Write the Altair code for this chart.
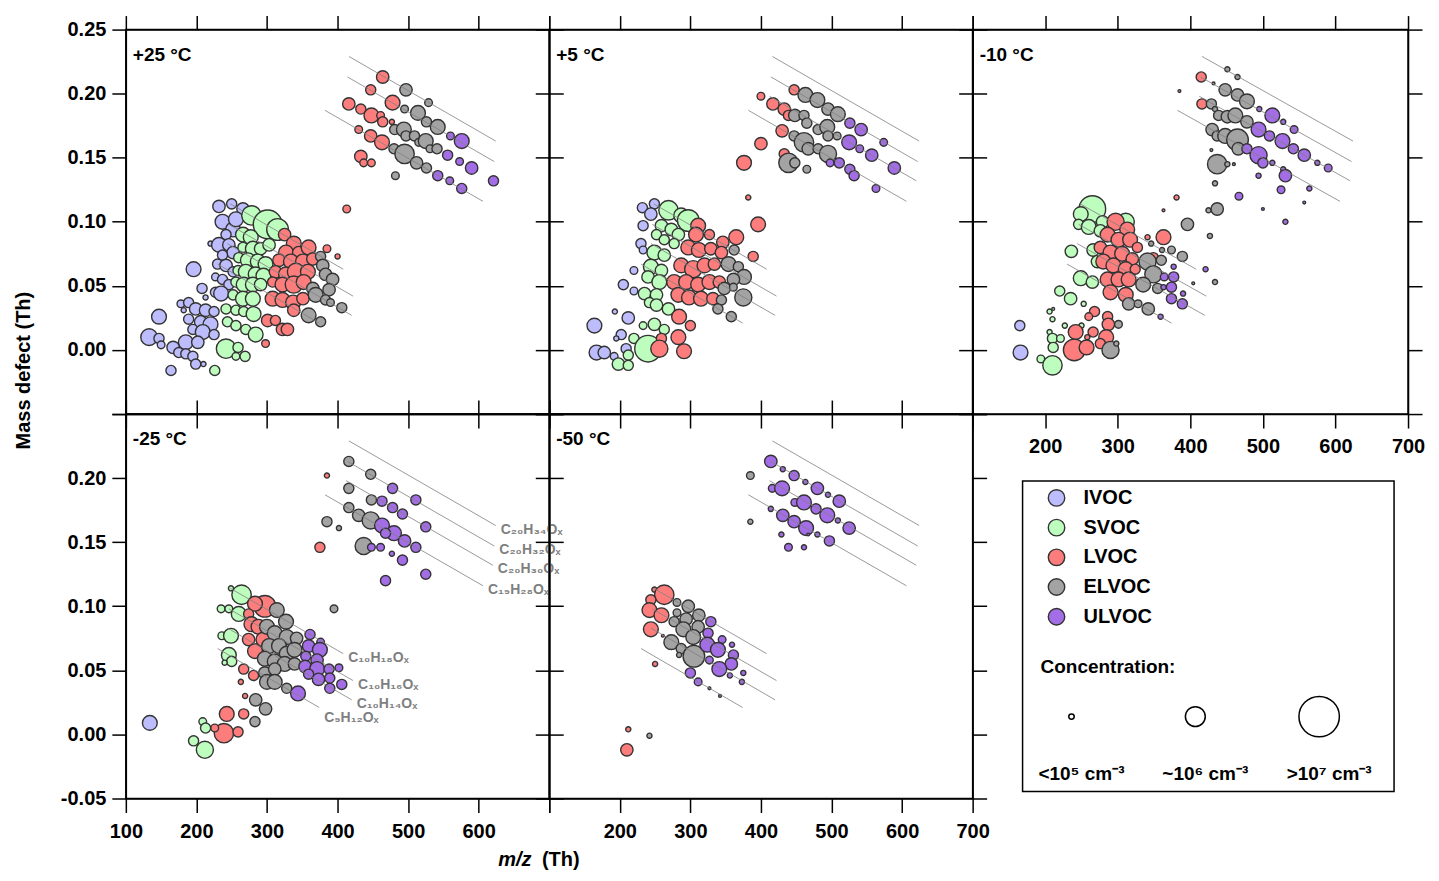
import altair as alt
import pandas as pd

FONT = "Liberation Sans"

classes = ["IVOC", "SVOC", "LVOC", "ELVOC", "ULVOC"]
class_fill = ["#bdbdfd", "#bdfdbd", "#fd7d7d", "#a3a3a3", "#a36de6"]

# each point: (m/z in Th, mass defect in Th, log10 concentration in cm-3)

# +25 °C
p1_ivoc = [
    (232, 0.112, 5.34), (250, 0.114, 5.20), (266, 0.110, 5.34), (237, 0.100, 5.52), (252, 0.094, 5.52),
    (256, 0.102, 5.52), (266, 0.090, 5.34), (242, 0.090, 5.20), (220, 0.083, 4.99), (232, 0.082, 5.52),
    (246, 0.082, 5.34), (252, 0.076, 5.34), (237, 0.074, 5.20), (230, 0.067, 5.20), (242, 0.066, 5.34),
    (196, 0.063, 5.52), (252, 0.061, 5.20), (227, 0.057, 5.08), (237, 0.055, 5.20), (246, 0.051, 5.20),
    (208, 0.048, 5.20), (227, 0.045, 5.20), (235, 0.044, 5.52), (213, 0.041, 4.99), (178, 0.036, 5.08),
    (189, 0.037, 5.20), (182, 0.031, 4.99), (199, 0.032, 5.34), (213, 0.031, 5.34), (225, 0.030, 5.20),
    (147, 0.026, 5.52), (189, 0.024, 5.20), (206, 0.022, 5.34), (220, 0.020, 5.52), (195, 0.016, 5.20),
    (209, 0.014, 5.52), (225, 0.012, 5.20), (133, 0.010, 5.68), (147, 0.009, 5.20), (185, 0.006, 5.52),
    (202, 0.006, 5.34), (150, 0.004, 5.08), (167, 0.002, 5.34), (175, -0.002, 5.20), (185, -0.003, 5.20),
    (195, -0.005, 5.20), (199, -0.011, 5.20), (210, -0.011, 4.99), (164, -0.016, 5.20),
]
p1_svoc = [
    (278, 0.105, 5.95), (301, 0.098, 6.35), (315, 0.094, 6.06), (266, 0.090, 5.52), (277, 0.088, 5.52),
    (266, 0.080, 5.20), (280, 0.079, 5.52), (291, 0.079, 5.34), (303, 0.082, 5.34), (260, 0.072, 5.20),
    (273, 0.070, 5.52), (287, 0.069, 5.52), (298, 0.067, 5.52), (259, 0.062, 5.20), (270, 0.061, 5.52),
    (284, 0.059, 5.52), (295, 0.058, 5.52), (256, 0.053, 5.20), (267, 0.051, 5.52), (280, 0.051, 5.52),
    (291, 0.051, 5.34), (252, 0.043, 5.20), (266, 0.040, 5.52), (280, 0.040, 5.52), (242, 0.032, 5.20),
    (256, 0.031, 5.20), (267, 0.030, 5.20), (281, 0.028, 5.52), (244, 0.022, 5.20), (256, 0.019, 5.20),
    (270, 0.016, 5.20), (284, 0.012, 5.52), (242, 0.001, 5.95), (259, 0.002, 5.20), (256, -0.005, 5.08),
    (269, -0.005, 5.20), (226, -0.016, 5.20),
]
p1_lvoc = [
    (325, 0.090, 5.34), (338, 0.083, 5.52), (327, 0.076, 5.52), (345, 0.076, 5.34), (359, 0.080, 5.52),
    (317, 0.070, 5.34), (334, 0.069, 5.52), (351, 0.069, 5.52), (365, 0.071, 5.34), (312, 0.061, 5.34),
    (327, 0.059, 5.52), (341, 0.061, 5.72), (358, 0.061, 5.52), (308, 0.053, 5.20), (322, 0.051, 5.52),
    (338, 0.051, 5.72), (352, 0.053, 5.52), (308, 0.040, 5.52), (322, 0.039, 5.52), (337, 0.037, 5.52),
    (351, 0.040, 5.34), (338, 0.031, 5.34), (301, 0.023, 5.34), (312, 0.023, 5.20), (322, 0.016, 5.34),
    (329, 0.016, 5.34), (298, 0.005, 5.08), (385, 0.079, 5.08), (400, 0.073, 4.99), (413, 0.110, 5.08),
    (464, 0.213, 5.34), (447, 0.203, 5.20), (416, 0.192, 5.34), (433, 0.188, 5.20), (448, 0.183, 5.52),
    (461, 0.183, 5.08), (478, 0.193, 5.52), (464, 0.178, 5.20), (477, 0.178, 4.99), (430, 0.172, 5.08),
    (447, 0.167, 5.34), (463, 0.162, 5.52), (433, 0.151, 5.34), (437, 0.146, 5.08), (448, 0.146, 5.08),
]
p1_elvoc = [
    (376, 0.073, 5.20), (379, 0.066, 5.34), (383, 0.059, 5.34), (393, 0.055, 5.34), (388, 0.047, 5.34),
    (365, 0.048, 5.34), (369, 0.043, 5.52), (383, 0.039, 5.20), (390, 0.037, 5.08), (406, 0.033, 5.20),
    (359, 0.027, 5.52), (376, 0.022, 5.20),
    (497, 0.203, 5.34), (529, 0.193, 5.08), (495, 0.188, 5.08), (514, 0.185, 5.52), (526, 0.178, 5.20),
    (542, 0.174, 5.52), (481, 0.172, 5.20), (494, 0.172, 5.52), (497, 0.167, 5.20), (509, 0.167, 5.20),
    (515, 0.162, 5.08), (525, 0.163, 5.52), (531, 0.157, 5.08), (541, 0.157, 5.20), (480, 0.157, 5.20),
    (495, 0.153, 5.95), (512, 0.146, 5.34), (526, 0.142, 5.20), (482, 0.136, 5.08),
]
p1_ulvoc = [
    (560, 0.167, 5.08), (576, 0.163, 5.52), (556, 0.152, 5.20), (573, 0.147, 5.08), (590, 0.142, 5.34),
    (621, 0.132, 5.20), (542, 0.136, 5.20), (559, 0.132, 5.08), (576, 0.126, 5.20),
]

# +5 °C
p2_ivoc = [
    (232, 0.111, 5.20), (249, 0.114, 5.20), (244, 0.106, 5.34), (233, 0.097, 5.20), (230, 0.083, 5.20),
    (233, 0.078, 5.08), (220, 0.062, 5.08), (205, 0.051, 5.20), (220, 0.046, 5.08), (193, 0.030, 4.99),
    (212, 0.025, 5.34), (164, 0.019, 5.52), (202, 0.012, 5.20), (195, 0.009, 4.99), (167, -0.002, 5.52),
    (178, -0.002, 5.34), (192, -0.005, 5.08), (209, 0.001, 5.20),
]
p2_svoc = [
    (269, 0.109, 5.95), (287, 0.105, 5.52), (297, 0.101, 6.06), (259, 0.097, 5.34), (273, 0.094, 5.34),
    (283, 0.090, 5.34), (252, 0.090, 5.20), (263, 0.086, 5.20), (277, 0.083, 5.20), (249, 0.076, 5.52),
    (263, 0.074, 5.34), (244, 0.065, 5.52), (259, 0.062, 5.34), (240, 0.057, 5.34), (256, 0.053, 5.52),
    (235, 0.044, 5.34), (252, 0.043, 5.34), (242, 0.037, 5.20), (252, 0.035, 5.34), (269, 0.032, 5.34),
    (249, 0.020, 5.34), (233, 0.019, 5.08), (263, 0.016, 5.20), (220, 0.009, 5.20), (240, 0.001, 6.25),
    (212, -0.004, 5.20), (198, -0.011, 5.34), (212, -0.012, 5.20),
]
p2_lvoc = [
    (382, 0.119, 4.99), (396, 0.098, 5.52), (311, 0.097, 5.52), (308, 0.090, 5.52), (327, 0.090, 5.20),
    (346, 0.084, 5.34), (365, 0.088, 5.52), (297, 0.080, 5.52), (312, 0.078, 5.52), (329, 0.079, 5.34),
    (344, 0.076, 5.34), (389, 0.073, 5.20), (287, 0.066, 5.52), (304, 0.063, 5.72), (320, 0.066, 5.52),
    (334, 0.067, 5.34), (277, 0.053, 5.52), (294, 0.053, 5.52), (311, 0.051, 5.52), (327, 0.053, 5.52),
    (341, 0.053, 5.34), (283, 0.043, 5.52), (298, 0.041, 5.52), (315, 0.040, 5.52), (332, 0.040, 5.34),
    (284, 0.026, 5.52), (300, 0.019, 5.20), (283, 0.010, 5.52), (259, 0.009, 5.20), (256, 0.001, 5.72),
    (291, -0.001, 5.52),
    (447, 0.203, 5.20), (400, 0.198, 5.08), (417, 0.192, 5.34), (433, 0.188, 5.34), (439, 0.183, 5.20),
    (430, 0.171, 5.34), (400, 0.161, 5.34), (433, 0.153, 5.20), (376, 0.146, 5.52),
]
p2_elvoc = [
    (362, 0.078, 5.20), (354, 0.067, 5.52), (368, 0.065, 5.20), (376, 0.057, 5.52), (361, 0.055, 5.34),
    (348, 0.048, 5.34), (375, 0.041, 5.72), (361, 0.049, 5.08), (344, 0.039, 5.20), (339, 0.032, 5.20),
    (358, 0.026, 5.20),
    (463, 0.199, 5.52), (480, 0.195, 5.52), (495, 0.188, 5.34), (509, 0.184, 5.52), (448, 0.183, 5.34),
    (461, 0.183, 5.20), (465, 0.177, 5.20), (481, 0.172, 5.20), (494, 0.174, 5.52), (495, 0.167, 5.20),
    (508, 0.167, 5.08), (447, 0.167, 5.20), (461, 0.162, 5.95), (467, 0.157, 5.34), (481, 0.157, 5.20),
    (495, 0.153, 5.72), (439, 0.146, 5.95), (448, 0.146, 5.20), (465, 0.141, 5.08),
]
p2_ulvoc = [
    (526, 0.177, 5.20), (542, 0.172, 5.34), (525, 0.162, 5.52), (540, 0.157, 5.08), (557, 0.152, 5.34),
    (574, 0.162, 5.08), (589, 0.142, 5.34), (498, 0.146, 5.08), (511, 0.146, 5.20), (526, 0.141, 5.20),
    (532, 0.136, 5.20), (563, 0.126, 5.08),
]

# -10 °C
p3_ivoc = [(165, 0.019, 5.20), (166, -0.002, 5.52)]
p3_svoc = [
    (265, 0.110, 6.25), (249, 0.106, 5.52), (246, 0.098, 5.20), (260, 0.096, 5.52), (279, 0.100, 5.34),
    (276, 0.093, 5.34), (311, 0.100, 5.72), (236, 0.077, 5.34), (266, 0.078, 5.34), (272, 0.069, 5.34),
    (249, 0.056, 5.52), (265, 0.053, 5.34), (220, 0.046, 5.20), (235, 0.040, 5.34), (253, 0.036, 4.99),
    (206, 0.030, 4.99), (211, 0.032, 4.94), (210, 0.024, 4.99), (227, 0.019, 4.99), (250, 0.019, 4.99),
    (206, 0.014, 4.99), (210, 0.009, 5.20), (221, 0.009, 5.08), (211, 0.002, 5.20), (194, -0.007, 5.08),
    (210, -0.012, 5.95),
]
p3_lvoc = [
    (381, 0.119, 4.99), (363, 0.109, 4.94), (297, 0.100, 5.72), (313, 0.094, 5.52), (286, 0.090, 5.52),
    (301, 0.086, 5.52), (317, 0.086, 5.52), (327, 0.080, 5.20), (276, 0.080, 5.34), (290, 0.076, 5.52),
    (306, 0.075, 5.52), (320, 0.071, 5.34), (280, 0.069, 5.52), (294, 0.066, 5.52), (311, 0.063, 5.52),
    (324, 0.063, 5.20), (286, 0.055, 5.52), (301, 0.055, 5.52), (315, 0.055, 5.52), (290, 0.045, 5.52),
    (311, 0.043, 5.52), (363, 0.088, 5.52), (341, 0.088, 4.99), (349, 0.072, 5.20), (268, 0.030, 5.20),
    (260, 0.026, 5.08), (286, 0.026, 5.20), (287, 0.020, 5.34), (242, 0.014, 5.52), (266, 0.014, 5.20),
    (284, 0.010, 5.52), (258, 0.010, 4.99), (276, 0.005, 5.20), (240, 0.000, 6.06), (257, 0.002, 5.52),
    (415, 0.213, 5.20), (385, 0.202, 4.94), (416, 0.192, 5.20),
]
p3_elvoc = [
    (437, 0.110, 5.34), (425, 0.109, 4.99), (396, 0.098, 5.34), (427, 0.089, 4.99), (346, 0.083, 4.99),
    (361, 0.078, 4.99), (374, 0.078, 5.08), (389, 0.073, 5.20), (341, 0.069, 5.72), (360, 0.070, 5.20),
    (349, 0.059, 5.72), (335, 0.051, 5.52), (355, 0.048, 5.20), (315, 0.036, 5.34), (328, 0.036, 5.08),
    (342, 0.032, 5.34), (290, 0.000, 5.72), (301, 0.020, 5.08), (298, 0.005, 4.99), (434, 0.053, 4.99),
    (404, 0.052, 4.94),
    (451, 0.219, 4.99), (465, 0.213, 4.99), (432, 0.208, 4.94), (448, 0.203, 5.34), (465, 0.199, 5.34),
    (478, 0.194, 5.52), (429, 0.192, 5.20), (434, 0.188, 4.99), (439, 0.183, 5.20), (451, 0.182, 5.34),
    (462, 0.183, 5.52), (478, 0.178, 5.34), (430, 0.172, 5.34), (437, 0.167, 5.20), (448, 0.167, 5.52),
    (465, 0.164, 6.06), (466, 0.157, 5.34), (437, 0.145, 5.95), (429, 0.156, 4.94), (451, 0.145, 4.99),
    (460, 0.145, 4.94), (434, 0.130, 4.99),
]
p3_ulvoc = [
    (377, 0.065, 4.99), (364, 0.057, 5.08), (377, 0.057, 5.20), (374, 0.049, 5.20), (363, 0.049, 4.99),
    (390, 0.044, 4.99), (374, 0.040, 5.20), (389, 0.036, 5.20), (421, 0.063, 4.99), (359, 0.026, 4.99),
    (495, 0.188, 4.99), (513, 0.183, 5.52), (528, 0.178, 4.99), (543, 0.172, 5.08), (494, 0.172, 5.52),
    (509, 0.167, 5.20), (527, 0.163, 5.52), (542, 0.157, 5.20), (557, 0.152, 5.34), (575, 0.146, 4.99),
    (590, 0.142, 5.08), (478, 0.157, 5.20), (494, 0.152, 5.72), (500, 0.146, 5.20), (513, 0.146, 4.99),
    (528, 0.141, 4.99), (531, 0.136, 5.34), (494, 0.136, 4.99), (525, 0.125, 5.08), (564, 0.126, 4.99),
    (467, 0.120, 5.08), (557, 0.115, 4.94), (500, 0.110, 4.94), (531, 0.100, 4.99),
]

# -25 °C
p4_ivoc = [(134, 0.009, 5.52)]
p4_svoc = [
    (249, 0.114, 4.99), (264, 0.109, 5.95), (235, 0.098, 5.08), (246, 0.098, 5.08), (260, 0.094, 5.52),
    (236, 0.077, 5.08), (249, 0.077, 5.52), (246, 0.062, 5.52), (250, 0.057, 5.20), (240, 0.056, 4.99),
    (209, 0.010, 5.08), (213, 0.005, 5.20), (196, -0.005, 5.20), (212, -0.012, 5.72),
]
p4_lvoc = [
    (297, 0.100, 6.06), (283, 0.102, 5.52), (274, 0.094, 5.20), (278, 0.086, 5.52), (288, 0.084, 5.52),
    (274, 0.074, 5.34), (283, 0.065, 5.52), (295, 0.074, 5.52), (267, 0.051, 5.20), (281, 0.046, 5.20),
    (263, 0.041, 4.99), (269, 0.030, 4.99), (243, 0.016, 5.52), (267, 0.016, 5.20), (239, 0.001, 5.95),
    (259, 0.002, 5.20), (226, 0.005, 5.08), (385, 0.202, 4.99), (375, 0.146, 5.20),
]
p4_elvoc = [
    (314, 0.097, 5.52), (327, 0.088, 5.52), (300, 0.084, 5.52), (311, 0.079, 5.52), (328, 0.076, 5.52),
    (342, 0.075, 5.34), (303, 0.069, 5.52), (317, 0.069, 5.52), (328, 0.063, 5.52), (339, 0.066, 5.52),
    (297, 0.059, 5.52), (311, 0.057, 5.52), (325, 0.055, 5.52), (339, 0.055, 5.34), (297, 0.048, 5.34),
    (311, 0.051, 5.34), (300, 0.041, 5.52), (311, 0.041, 5.52), (328, 0.036, 5.20), (284, 0.027, 5.34),
    (298, 0.020, 5.34), (283, 0.010, 5.20), (395, 0.098, 5.08),
    (416, 0.213, 5.20), (447, 0.203, 5.20), (416, 0.192, 5.20), (448, 0.183, 5.20), (416, 0.177, 5.20),
    (430, 0.171, 5.34), (447, 0.167, 5.72), (385, 0.166, 5.20), (402, 0.161, 4.99), (437, 0.147, 5.72),
]
p4_ulvoc = [
    (478, 0.192, 5.20), (511, 0.183, 5.20), (463, 0.182, 5.20), (478, 0.177, 5.20), (492, 0.172, 5.20),
    (463, 0.163, 5.52), (480, 0.157, 5.52), (468, 0.157, 5.20), (495, 0.151, 5.34), (511, 0.146, 5.20),
    (525, 0.162, 5.20), (448, 0.146, 5.08), (461, 0.146, 5.08), (477, 0.141, 4.99), (492, 0.136, 5.20),
    (525, 0.125, 5.20), (468, 0.120, 5.20),
    (361, 0.078, 5.20), (376, 0.072, 5.08), (359, 0.069, 5.34), (375, 0.066, 5.52), (355, 0.061, 5.20),
    (371, 0.058, 5.34), (354, 0.053, 5.34), (371, 0.051, 5.52), (388, 0.051, 5.20), (359, 0.047, 5.20),
    (373, 0.043, 5.34), (389, 0.044, 5.20), (389, 0.036, 5.20), (406, 0.039, 5.20), (402, 0.052, 5.08),
    (344, 0.032, 5.52),
]

# -50 °C
p5_ivoc = []
p5_svoc = []
p5_lvoc = [
    (249, 0.113, 4.99), (263, 0.109, 5.95), (244, 0.105, 5.20), (242, 0.097, 5.52), (259, 0.093, 5.52),
    (244, 0.082, 5.52), (261, 0.077, 4.94), (250, 0.055, 4.99), (212, 0.004, 4.99), (210, -0.012, 5.34),
]
p5_elvoc = [
    (281, 0.103, 5.08), (297, 0.100, 5.34), (281, 0.095, 5.08), (312, 0.093, 5.34), (277, 0.088, 5.20),
    (294, 0.090, 5.34), (311, 0.084, 5.34), (290, 0.082, 5.52), (304, 0.076, 5.52), (273, 0.072, 5.52),
    (287, 0.067, 5.20), (305, 0.061, 6.06), (284, 0.062, 4.99), (242, -0.001, 4.99),
    (385, 0.202, 5.08), (385, 0.166, 4.99),
]
p5_ulvoc = [
    (329, 0.088, 5.20), (325, 0.079, 5.20), (345, 0.074, 5.08), (324, 0.070, 5.52), (339, 0.066, 5.52),
    (359, 0.070, 4.99), (361, 0.062, 5.20), (327, 0.058, 5.08), (358, 0.055, 5.34), (341, 0.051, 5.52),
    (300, 0.048, 5.20), (356, 0.046, 4.99), (375, 0.048, 4.99), (311, 0.041, 5.08), (373, 0.041, 4.99),
    (327, 0.036, 4.94), (342, 0.030, 4.94),
    (414, 0.213, 5.34), (431, 0.207, 4.99), (447, 0.202, 5.20), (463, 0.197, 4.99), (480, 0.192, 5.34),
    (495, 0.187, 4.99), (511, 0.182, 5.34), (416, 0.192, 5.08), (430, 0.192, 5.52), (448, 0.181, 5.08),
    (461, 0.181, 5.52), (478, 0.176, 5.20), (494, 0.171, 5.52), (509, 0.167, 4.99), (525, 0.161, 5.34),
    (414, 0.176, 4.99), (431, 0.171, 5.34), (447, 0.166, 5.34), (464, 0.161, 5.52), (467, 0.156, 4.94),
    (480, 0.156, 4.99), (497, 0.151, 5.20), (429, 0.156, 4.99), (439, 0.146, 5.08), (461, 0.146, 4.99),
]

# homologous series (NO3- clusters), first and last oxygen number drawn
series_name = ["C₂₀H₃₄Oₓ", "C₂₀H₃₂Oₓ", "C₂₀H₃₀Oₓ", "C₁₉H₂₈Oₓ",
               "C₁₀H₁₈Oₓ", "C₁₀H₁₆Oₓ", "C₁₀H₁₄Oₓ", "C₉H₁₂Oₓ"]
series_mz0 = [416.229, 414.213, 412.198, 382.187, 248.114, 246.098, 244.083, 230.067]
series_md0 = [0.229, 0.213, 0.198, 0.187, 0.114, 0.098, 0.083, 0.067]
series_mz1 = [624.163, 622.147, 620.132, 606.116, 408.063, 422.042, 420.027, 374.021]
series_md1 = [0.163, 0.147, 0.132, 0.116, 0.063, 0.042, 0.027, 0.021]

conc_logc = [5, 6, 7]
conc_label = ["<10⁵ cm⁻³", "~10⁶ cm⁻³", ">10⁷ cm⁻³"]

x_ticks = [100, 200, 300, 400, 500, 600, 700]
y_ticks = [-0.05, 0.0, 0.05, 0.10, 0.15, 0.20, 0.25]

xscale = alt.Scale(domain=[100, 700], nice=False, zero=False)
yscale = alt.Scale(domain=[-0.05, 0.25], nice=False, zero=False)
fill_scale = alt.Scale(domain=classes, range=class_fill)
size_scale = alt.Scale(domain=[5, 6, 7], range=[30, 396, 1640])

lines_df = pd.DataFrame({"name": series_name, "mz0": series_mz0, "md0": series_md0,
                         "mz1": series_mz1, "md1": series_md1})


def points_frame(groups):
    rows = []
    for cls, pts in zip(classes, groups):
        for mz, md, logc in pts:
            rows.append({"mz": mz, "md": md, "logc": logc, "cls": cls})
    return pd.DataFrame(rows)


def series_labels(df, dy):
    return alt.Chart(df).mark_text(
        align="left", baseline="middle", dx=5, dy=dy, font=FONT, fontSize=14,
        fontWeight="bold", color="#7f7f7f"
    ).encode(
        x=alt.X("mz1:Q", scale=xscale, axis=None),
        y=alt.Y("md1:Q", scale=yscale, axis=None),
        text="name:N",
    )


def panel(groups, label, width, xlab=None, ylab=None, xtitle=None, ytitle=None,
          skip=(), tags=False):
    xa = dict(values=x_ticks, orient="bottom", labels=xlab is not None, title=None)
    if xlab:
        xa["labelExpr"] = xlab
    if xtitle:
        xa.update(xtitle)
    ya = dict(values=y_ticks, orient="left", labels=ylab is not None, title=None)
    if ylab:
        ya["labelExpr"] = ylab
    if ytitle:
        ya.update(ytitle)

    pts = alt.Chart(points_frame(groups)).mark_circle(
        stroke="#333333", strokeWidth=1.4, opacity=1
    ).encode(
        x=alt.X("mz:Q", scale=xscale, axis=alt.Axis(**xa)),
        y=alt.Y("md:Q", scale=yscale, axis=alt.Axis(**ya)),
        fill=alt.Fill("cls:N", scale=fill_scale, legend=None),
        size=alt.Size("logc:Q", scale=size_scale, legend=None),
    )

    shown = lines_df[~lines_df["name"].isin(skip)]
    rules = alt.Chart(shown).mark_rule(color="#808080", strokeWidth=0.8).encode(
        x=alt.X("mz0:Q", scale=xscale,
                axis=alt.Axis(values=x_ticks, orient="top", labels=False, title=None)),
        x2="mz1:Q",
        y=alt.Y("md0:Q", scale=yscale,
                axis=alt.Axis(values=y_ticks, orient="right", labels=False, title=None)),
        y2="md1:Q",
    )

    tag = alt.Chart(pd.DataFrame({"t": [label]})).mark_text(
        align="left", baseline="middle", font=FONT, fontSize=19, fontWeight="bold", color="black"
    ).encode(x=alt.value(7), y=alt.value(25), text="t:N")

    layers = [pts, rules, tag]
    if tags:
        low = shown["name"] == "C₉H₁₂Oₓ"
        layers.append(series_labels(shown[~low], 4))
        layers.append(series_labels(shown[low], 11))
    return alt.layer(*layers).resolve_axis(x="independent", y="independent").properties(
        width=width, height=385)


fmt_y = "replace(format(datum.value, '.2f'), '−', '-')"
y_top = "datum.value < -0.01 ? '' : " + fmt_y
y_bottom = "datum.value > 0.24 ? '' : " + fmt_y
x_no100 = "datum.value < 150 ? '' : format(datum.value, 'd')"
x_no700 = "datum.value > 650 ? '' : format(datum.value, 'd')"

p1 = panel([p1_ivoc, p1_svoc, p1_lvoc, p1_elvoc, p1_ulvoc], "+25 °C", 424,
           ylab=y_top, skip=("C₂₀H₃₀Oₓ",),
           ytitle=dict(title="Mass defect (Th)", titleX=-102, titleY=341, titleAngle=270,
                       titleAlign="center", titleBaseline="middle"))
p2 = panel([p2_ivoc, p2_svoc, p2_lvoc, p2_elvoc, p2_ulvoc], "+5 °C", 424)
p3 = panel([p3_ivoc, p3_svoc, p3_lvoc, p3_elvoc, p3_ulvoc], "-10 °C", 436, xlab=x_no100)
p4 = panel([p4_ivoc, p4_svoc, p4_lvoc, p4_elvoc, p4_ulvoc], "-25 °C", 424,
           xlab=x_no700, ylab=y_bottom, tags=True,
           xtitle=dict(title="m/z", titleFontStyle="italic", titleX=389, titleY=61,
                       titleAlign="center", titleBaseline="middle"))
p5 = panel([p5_ivoc, p5_svoc, p5_lvoc, p5_elvoc, p5_ulvoc], "-50 °C", 424, xlab=x_no100,
           xtitle=dict(title="(Th)", titleX=11, titleY=61,
                       titleAlign="center", titleBaseline="middle"))

# legend panel
leg_box = alt.Chart(pd.DataFrame({"k": [0]})).mark_rect(
    fill="white", stroke="black", strokeWidth=1.5
).encode(x=alt.value(50), x2=alt.value(422), y=alt.value(67), y2=alt.value(378))

row_scale = alt.Scale(domain=classes, range=[84, 203], padding=0)
cls_df = pd.DataFrame({"cls": classes})
leg_dots = alt.Chart(cls_df).mark_circle(
    size=272, stroke="#333333", strokeWidth=1.4, opacity=1
).encode(
    x=alt.value(84),
    y=alt.Y("cls:N", scale=row_scale, axis=None),
    fill=alt.Fill("cls:N", scale=fill_scale, legend=None),
)
leg_names = alt.Chart(cls_df).mark_text(
    align="left", baseline="middle", font=FONT, fontSize=20, fontWeight="bold", color="black"
).encode(x=alt.value(111), y=alt.Y("cls:N", scale=row_scale, axis=None), text="cls:N")

leg_head = alt.Chart(pd.DataFrame({"t": ["Concentration:"]})).mark_text(
    align="left", baseline="middle", font=FONT, fontSize=19, fontWeight="bold", color="black"
).encode(x=alt.value(68), y=alt.value(253), text="t:N")

conc_df = pd.DataFrame({"logc": conc_logc, "label": conc_label})
conc_x = alt.Scale(domain=[5, 7], range=[99, 347])
leg_sizes = alt.Chart(conc_df).mark_point(
    shape="circle", filled=False, color="black", strokeWidth=1.5, opacity=1
).encode(
    x=alt.X("logc:Q", scale=conc_x, axis=None),
    y=alt.value(303),
    size=alt.Size("logc:Q", scale=size_scale, legend=None),
)
leg_size_text = alt.Chart(conc_df).mark_text(
    align="center", baseline="middle", dx=10, font=FONT, fontSize=19, fontWeight="bold",
    color="black"
).encode(x=alt.X("logc:Q", scale=conc_x, axis=None), y=alt.value(360), text="label:N")

legend = alt.layer(leg_box, leg_dots, leg_names, leg_head, leg_sizes, leg_size_text).properties(
    width=436, height=385, view=alt.ViewBackground(stroke="transparent"))

chart = alt.concat(p1, p2, p3, p4, p5, legend, columns=3, spacing=0, bounds="flush").configure_view(
    stroke="black", strokeWidth=1.5
).configure_axis(
    grid=False, domainColor="black", domainWidth=1.5, tickColor="black", tickWidth=1.5,
    tickSize=14, labelFont=FONT, labelFontSize=20, labelFontWeight="bold", labelColor="black",
    labelFlush=False, labelOverlap=False, titleFont=FONT, titleFontSize=20,
    titleFontWeight="bold", titleColor="black"
).configure_axisX(labelPadding=9).configure_axisY(labelPadding=6)

chart.save("out.html", embed_options={"renderer": "svg", "actions": False})
